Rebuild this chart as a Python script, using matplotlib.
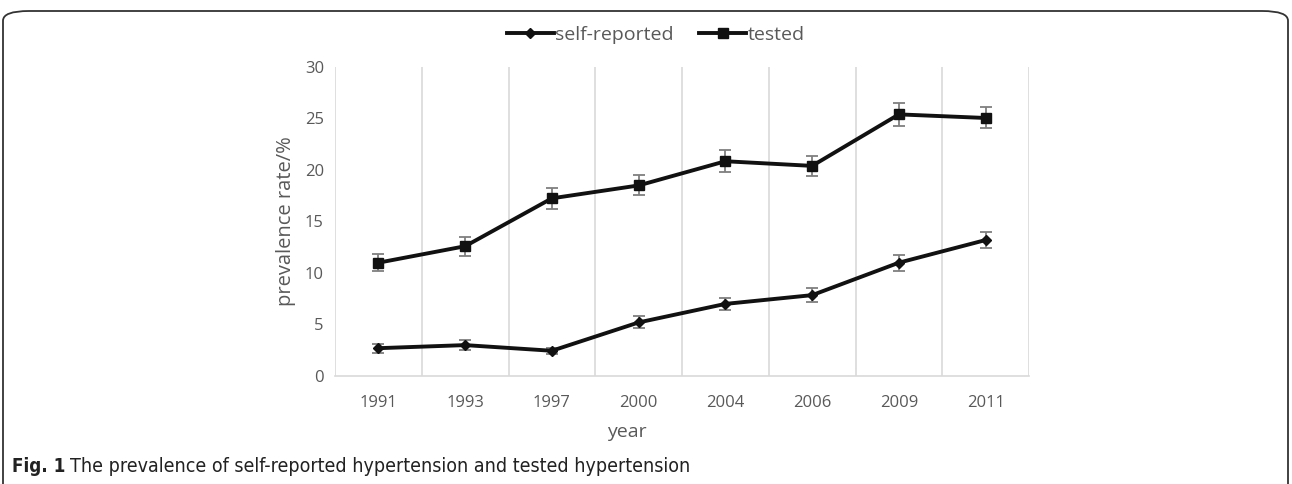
import matplotlib
matplotlib.use("Agg")
import matplotlib.pyplot as plt
from matplotlib.patches import FancyBboxPatch
from matplotlib.lines import Line2D

# data
years = ["1991", "1993", "1997", "2000", "2004", "2006", "2009", "2011"]
self_reported = [2.7, 3.0, 2.45, 5.2, 7.0, 7.85, 11.0, 13.2]
self_reported_err = [0.45, 0.5, 0.3, 0.58, 0.62, 0.68, 0.78, 0.78]
tested = [11.0, 12.6, 17.25, 18.5, 20.85, 20.4, 25.4, 25.05]
tested_err = [0.85, 0.92, 0.99, 0.97, 1.05, 1.0, 1.13, 1.02]

grey_txt = "#595959"
plt.rcParams["font.family"] = ["Open Sans", "DejaVu Sans"]

W, H = 1292, 484
fig = plt.figure(figsize=(W / 100, H / 100), dpi=100)

# rounded frame around the figure panel
frame = FancyBboxPatch((3 / W, -0.1), (W - 7) / W, 0.1 + (H - 11) / H,
                       boxstyle="round,pad=0,rounding_size=0.02",
                       transform=fig.transFigure, fill=False,
                       edgecolor="#333333", linewidth=1.3)
fig.patches.append(frame)

ax = fig.add_axes([335 / W, 1 - 376 / H, (1029 - 335) / W, (376 - 67) / H])
x = list(range(len(years)))

ax.errorbar(x, tested, yerr=tested_err, color="#111111", lw=2.8,
            marker="s", ms=7.5, ecolor="#7f7f7f", elinewidth=1.3,
            capsize=4.5, capthick=1.3, zorder=3)
ax.errorbar(x, self_reported, yerr=self_reported_err, color="#111111", lw=2.8,
            marker="D", ms=5.5, ecolor="#7f7f7f", elinewidth=1.3,
            capsize=4.5, capthick=1.3, zorder=3)

ax.set_xlim(-0.5, len(years) - 0.5)
ax.set_ylim(0, 30)
ax.set_yticks([0, 5, 10, 15, 20, 25, 30])
ax.set_xticks(x)
ax.set_xticklabels(years)
for b in range(len(years) + 1):
    ax.axvline(b - 0.5, color="#d9d9d9", lw=1.2, zorder=1)

for s in ["top", "left", "right"]:
    ax.spines[s].set_visible(False)
ax.spines["bottom"].set_color("#d9d9d9")
ax.spines["bottom"].set_linewidth(1.2)
ax.tick_params(axis="both", length=0, labelcolor=grey_txt, labelsize=12)
ax.tick_params(axis="x", pad=14)
ax.tick_params(axis="y", pad=8)
ax.set_ylabel("prevalence rate/%", color=grey_txt, fontsize=14.5, labelpad=6)

fig.text(627 / W, 1 - 432 / H, "year", color=grey_txt, fontsize=14,
         ha="center", va="center")

handles = [
    Line2D([], [], color="#111111", lw=2.8, marker="D", ms=5.5),
    Line2D([], [], color="#111111", lw=2.8, marker="s", ms=7.5),
]
leg = fig.legend(handles, ["self-reported", "tested"], loc="center",
                 bbox_to_anchor=(656 / W, 1 - 35 / H), ncol=2, frameon=False,
                 fontsize=14, handlelength=2.4, handletextpad=0.1,
                 columnspacing=1.3)
for t in leg.get_texts():
    t.set_color(grey_txt)

cap_font = dict(family=["DejaVu Sans"], stretch="condensed")
fig.text(12 / W, 1 - 466 / H, "Fig. 1", fontweight="bold", fontsize=13.5,
         color="#222222", va="center", **cap_font)
fig.text(70 / W, 1 - 466 / H,
         "The prevalence of self-reported hypertension and tested hypertension",
         fontsize=14, color="#222222", va="center", **cap_font)

fig.savefig("out.png", dpi=100)
